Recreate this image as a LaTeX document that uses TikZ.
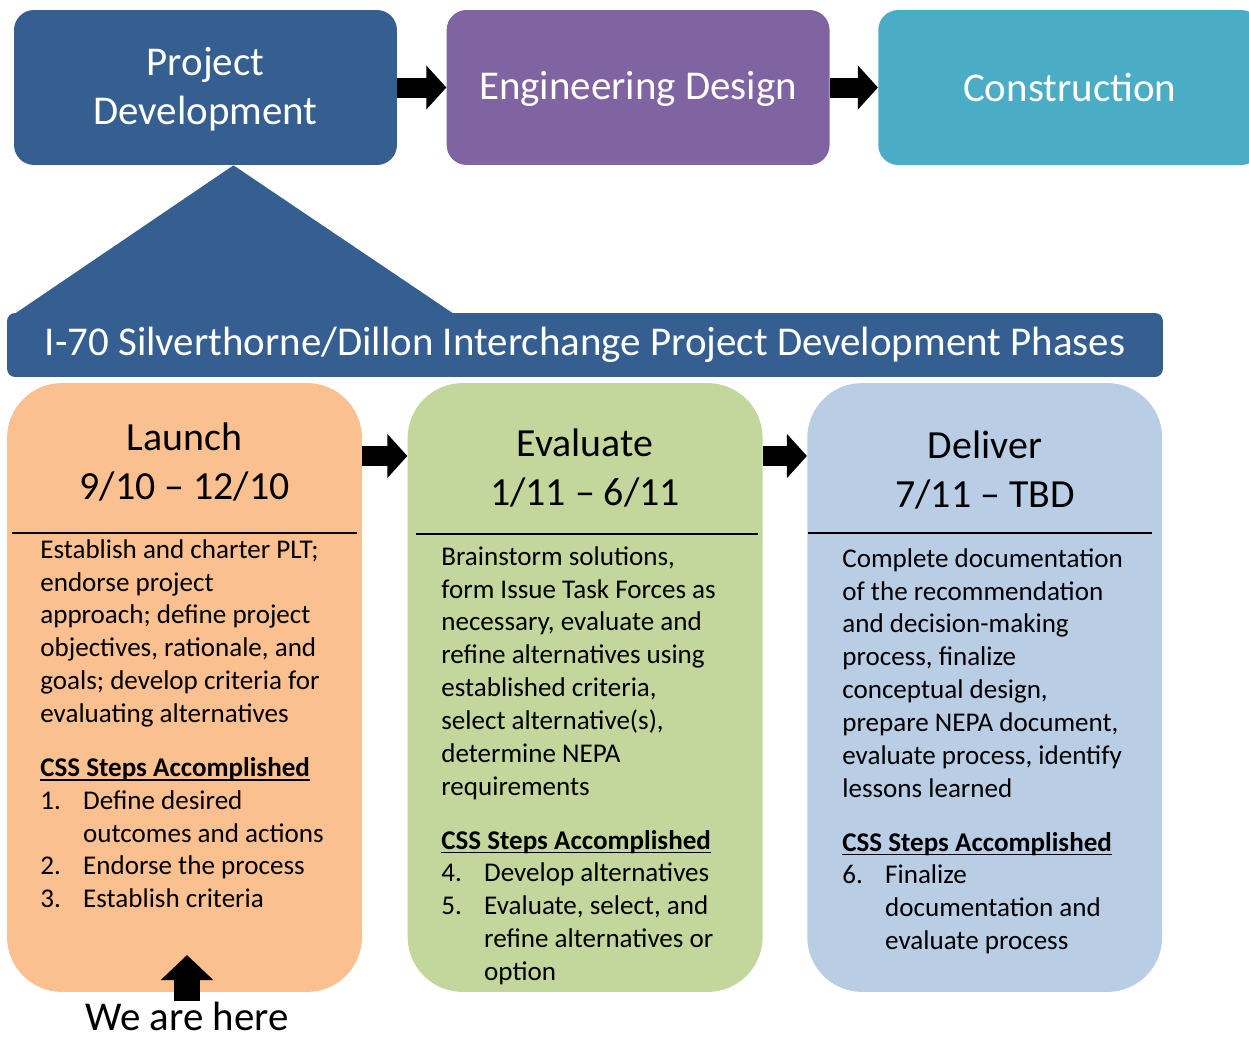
\documentclass[tikz,border=0pt]{standalone}
\usepackage{fontspec}
\setmainfont{Carlito}
\usepackage{tikz}
\usetikzlibrary{positioning,arrows.meta,calc}
\definecolor{pdblue}{RGB}{54,95,145}
\definecolor{edpurple}{RGB}{128,100,162}
\definecolor{conteal}{RGB}{75,172,198}
\definecolor{launchorange}{RGB}{250,192,144}
\definecolor{evalgreen}{RGB}{195,214,155}
\definecolor{deliverblue}{RGB}{185,205,229}
\newcommand{\stagefont}{\fontsize{23.3}{27.8}\selectfont}
\newcommand{\notefont}{\fontsize{15.4}{18.7}\selectfont}
\newcommand{\numitem}[1]{\makebox[24.4pt][l]{#1}}
\newcommand{\numgap}{\hspace*{24.4pt}}
\newcommand{\cssline}[1]{\setbox0=\hbox{\textbf{#1}}\rlap{\rule[-2.4pt]{\wd0}{0.9pt}}\box0}
\tikzstyle{stage} = [rectangle, rounded corners=0.4cm, minimum width=7.66cm, %
   minimum height=3.1cm, text=white, align=center, font=\stagefont]
\tikzstyle{phase} = [rectangle, rounded corners=1.1cm, minimum width=7.1cm, %
   minimum height=12.18cm]
\tikzstyle{title} = [align=center, font=\fontsize{22.7}{27.5}\selectfont]
\tikzstyle{note} = [anchor=north west, inner sep=0pt, align=left, font=\notefont]
\tikzstyle{rule} = [draw, line width=1.2pt]
\tikzstyle{line} = [draw, line width=0.4cm, -{Triangle[length=0.4cm,width=0.86cm]}]

\begin{document}
\begin{tikzpicture}[x=0.02cm, y=-0.02cm]
   \useasboundingbox (0,0) rectangle (1249,1038);

   % TOP ROW %%%%%%%%%%%%%%%%%%%%%%%%%%%%%%%%%%%%%%%%%%%%%%%%%%%%%%%%%
   \node[stage, fill=pdblue, text depth=2pt](pd) at (205.5,87.5){Project\\Development};
   \node[stage, fill=edpurple, text depth=2pt, right=0.98cm of pd](ed){Engineering Design};
   \node[stage, fill=conteal, right=0.96cm of ed](con){Construction};

   % Banner with the wedge up to Project Development
   \fill[pdblue] ([xshift=0.56cm]pd.south) -- (454,314) -- (7,319) -- cycle;
   \node[rectangle, rounded corners=0.16cm, fill=pdblue, text=white, %
      minimum width=23.12cm, minimum height=1.28cm, font=\stagefont](banner) %
      at (585,345){I-70 Silverthorne/Dillon Interchange Project Development Phases};

   % PHASES %%%%%%%%%%%%%%%%%%%%%%%%%%%%%%%%%%%%%%%%%%%%%%%%%%%%%%%%%%
   \node[phase, fill=launchorange](launch) at (184.5,687.5){};
   \node[phase, fill=evalgreen, right=0.9cm of launch](evaluate){};
   \node[phase, fill=deliverblue, right=0.88cm of evaluate](deliver){};

   \node[title](launchtitle) at (184.5,462){Launch\\9/10 -- 12/10};
   \node[title](evaltitle) at (585,468){Evaluate\\1/11 -- 6/11};
   \node[title](delivertitle) at (985,470){Deliver\\7/11 -- TBD};

   \path[rule] (12,533) -- (357,533);
   \path[rule] (416,534) -- (758,534);
   \path[rule] (808,533) -- (1152,533);

   \node[note](launchtext) at (40,539){%
      Establish and charter PLT;\\
      endorse project\\
      approach; define project\\
      objectives, rationale, and\\
      goals; develop criteria for\\
      evaluating alternatives\\[12pt]
      \cssline{CSS Steps Accomplished}\\
      \numitem{1.}Define desired\\
      \numgap outcomes and actions\\
      \numitem{2.}Endorse the process\\
      \numitem{3.}Establish criteria};

   \node[note](evaltext) at (441,546){%
      Brainstorm solutions,\\
      form Issue Task Forces as\\
      necessary, evaluate and\\
      refine alternatives using\\
      established criteria,\\
      select alternative(s),\\
      determine NEPA\\
      requirements\\[12pt]
      \cssline{CSS Steps Accomplished}\\
      \numitem{4.}Develop alternatives\\
      \numitem{5.}Evaluate, select, and\\
      \numgap refine alternatives or\\
      \numgap option};

   \node[note](delivertext) at (842,548){%
      Complete documentation\\
      of the recommendation\\
      and decision-making\\
      process, finalize\\
      conceptual design,\\
      prepare NEPA document,\\
      evaluate process, identify\\
      lessons learned\\[12pt]
      \cssline{CSS Steps Accomplished}\\
      \numitem{6.}Finalize\\
      \numgap documentation and\\
      \numgap evaluate process};

   \node[inner sep=0pt, font=\stagefont](here) at (187,1016){We are here};
   \coordinate (heretip) at (187,955);

   % Draw edges
   \path [line] (pd) -- (ed);
   \path [line] (ed) -- (con);
   \path [line] (launch.east |- 0,456) -- (evaluate.west |- 0,456);
   \path [line] (evaluate.east |- 0,456) -- (deliver.west |- 0,456);
   \path [draw, line width=0.52cm, -{Triangle[length=0.5cm,width=1.02cm]}] %
      (here.north) -- (heretip);

\end{tikzpicture}
\end{document}
